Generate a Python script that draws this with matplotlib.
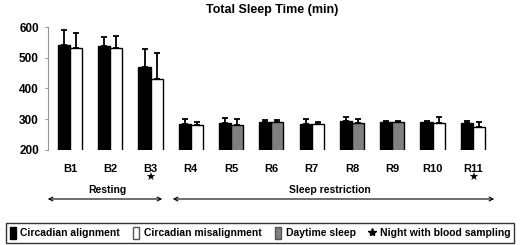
import matplotlib
matplotlib.use("Agg")
import matplotlib.pyplot as plt
from matplotlib.patches import Patch, FancyArrowPatch
from matplotlib.lines import Line2D
import numpy as np

plt.rcParams['font.family'] = ['Liberation Sans', 'DejaVu Sans']
plt.rcParams['font.weight'] = 'bold'

# data
nights = ["B1", "B2", "B3", "R4", "R5", "R6", "R7", "R8", "R9", "R10", "R11"]
aligned = [541, 538, 471, 283, 289, 290, 283, 295, 291, 292, 289]
aligned_err = [49, 30, 58, 17, 14, 7, 17, 11, 3, 2, 6]
second = [533, 531, 432, 281, 282, 290, 283, 289, 291, 288, 274]
second_err = [46, 40, 82, 11, 19, 7, 9, 11, 3, 20, 16]
# which condition the 2nd bar is: m = misalignment, d = daytime sleep
second_kind = ["m", "m", "m", "m", "d", "d", "m", "d", "d", "m", "m"]
sampled = ["B3", "R11"]

BLACK = "#000000"
WHITE = "#ffffff"
GRAY = "#808080"

fig = plt.figure(figsize=(5.2, 2.45), dpi=100)
ax = fig.add_axes([48 / 520, 95 / 245, 449 / 520, 123 / 245])

x = np.arange(len(nights))
w = 0.3
ax.bar(x - w / 2, aligned, w, color=BLACK, edgecolor=BLACK, linewidth=1, zorder=2)
ax.errorbar(x - w / 2, aligned, yerr=[np.zeros(len(x)), aligned_err], fmt="none",
            ecolor=BLACK, elinewidth=1.3, capsize=2.5, capthick=1.3, zorder=3)
cols2 = [GRAY if k == "d" else WHITE for k in second_kind]
ax.bar(x + w / 2, second, w, color=cols2, edgecolor=BLACK, linewidth=1, zorder=2)
ax.errorbar(x + w / 2, second, yerr=[np.zeros(len(x)), second_err], fmt="none",
            ecolor=BLACK, elinewidth=1.3, capsize=2.5, capthick=1.3, zorder=3)

ax.set_ylim(200, 600)
ax.set_xlim(-0.546, 10.6)
ax.set_yticks([200, 300, 400, 500, 600])
ax.set_xticks(x)
ax.set_xticklabels(nights)
for s in ["top", "right", "bottom"]:
    ax.spines[s].set_visible(False)
ax.spines["left"].set_color("#999999")
ax.tick_params(axis="y", length=2.5, color="#999999", pad=4, labelsize=8.5)
ax.tick_params(axis="x", length=0, pad=10, labelsize=8)

ax.set_title("Total Sleep Time (min)", fontsize=9, fontweight="bold", pad=10)

# stars under sampled nights
tr = ax.get_xaxis_transform()
for n in sampled:
    ax.text(nights.index(n), -0.23, "\u2605", transform=tr, ha="center", va="center",
            fontsize=8, family=["DejaVu Sans"])

# period arrows
ay = 1 - 199 / 245
for x0, x1 in [(45, 165), (170, 497)]:
    fig.patches.append(FancyArrowPatch(
        (x0 / 520, ay), (x1 / 520, ay), transform=fig.transFigure, arrowstyle="<->",
        mutation_scale=7, lw=0.8, color="black"))
fig.text(107 / 520, 1 - 190 / 245, "Resting", ha="center", va="center", fontsize=7.5)
fig.text(330 / 520, 1 - 190 / 245, "Sleep restriction", ha="center", va="center", fontsize=7.5)

handles = [
    Patch(facecolor=BLACK, edgecolor=BLACK),
    Patch(facecolor=WHITE, edgecolor="#555555"),
    Patch(facecolor=GRAY, edgecolor="#555555"),
    Line2D([], [], marker="*", color="black", linestyle="none", markersize=6),
]
labels = ["Circadian alignment", "Circadian misalignment", "Daytime sleep",
          "Night with blood sampling"]
leg = fig.legend(handles, labels, loc="center", ncol=4,
                 bbox_to_anchor=(0.5, 1 - 233 / 245), fontsize=7.5,
                 frameon=True, fancybox=False, edgecolor="black",
                 handlelength=0.6, handleheight=1.4, handletextpad=0.45,
                 columnspacing=1.25, borderpad=0.35, borderaxespad=0)
leg.get_frame().set_linewidth(1.0)

fig.savefig("out.png", dpi=100)
